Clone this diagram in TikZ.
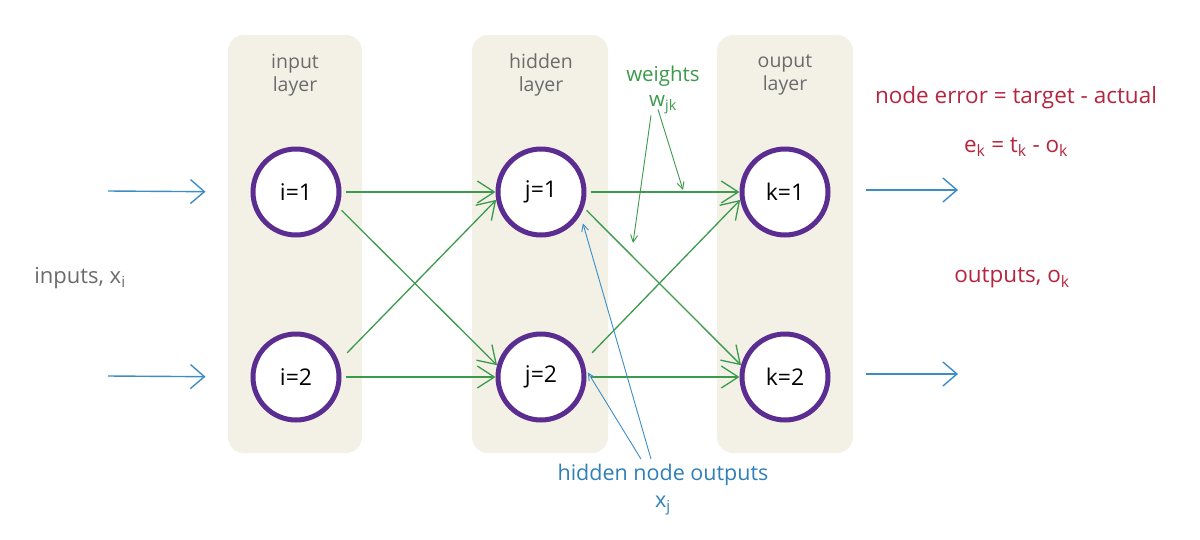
\documentclass[tikz,border=0pt]{standalone}
\usepackage{fontspec}
\setmainfont{Open Sans}
\usetikzlibrary{arrows.meta,positioning}
\definecolor{panel}{HTML}{F3F1E6}
\definecolor{graytxt}{HTML}{6B6B6B}
\definecolor{purp}{HTML}{5C2D91}
\definecolor{grn}{HTML}{3C9A4C}
\definecolor{blu}{HTML}{3C8DC5}
\definecolor{blutxt}{HTML}{2F7FB8}
\definecolor{redtxt}{HTML}{B5253F}
\tikzset{
  panelbox/.style={fill=panel, rounded corners=16pt, draw=none},
  neuron/.style={circle, draw=purp, fill=white, line width=5pt, minimum size=86pt, inner sep=0pt, font=\fontsize{23}{26}\selectfont, text=black},
  layerlbl/.style={text=graytxt, align=center, font=\fontsize{19.5}{23}\selectfont},
  inarrow/.style={draw=blu, line width=1.4pt, -{Straight Barb[length=14pt,width=24pt]}},
  warrow/.style={draw=grn, line width=1.3pt, -{Straight Barb[length=17pt,width=22pt]}},
  thinarrowg/.style={draw=grn, line width=0.9pt, -{Straight Barb[length=7pt,width=7pt]}},
  thinarrowb/.style={draw=blu, line width=0.9pt, -{Straight Barb[length=7pt,width=7pt]}},
  redlbl/.style={text=redtxt, font=\fontsize{22.5}{26}\selectfont, align=center},
}
\begin{document}
\begin{tikzpicture}[x=1pt,y=-1pt]
\useasboundingbox (0,0) rectangle (1200,539);
% panels
\path[panelbox] (228,35) rectangle (362,453);
\path[panelbox] (472,35) rectangle (608,453);
\path[panelbox] (717,35) rectangle (853,453);
\node[layerlbl] (lin) at (295,75) {input\\layer};
\node[layerlbl] (lhid) at (541,75) {hidden\\layer};
\node[layerlbl] (lout) at (785,75) {ouput\\layer};
% neurons
\node[neuron] (i1) at (296,192) {i=1};
\node[neuron] (i2) at (296,377) {i=2};
\node[neuron] (j1) at (541,192) {j=1};
\node[neuron] (j2) at (541,377) {j=2};
\node[neuron] (k1) at (785,192) {k=1};
\node[neuron] (k2) at (785,377) {k=2};
% input / output arrows
\coordinate (in1) at (108,191);
\coordinate (in2) at (108,376);
\coordinate (out1s) at (866,190);
\coordinate (out1e) at (958,190);
\coordinate (out2s) at (866,374);
\coordinate (out2e) at (958,374);
\draw[inarrow, shorten >=45pt] (in1) -- (i1.west);
\draw[inarrow, shorten >=45pt] (in2) -- (i2.west);
\draw[inarrow] (out1s) -- (out1e);
\draw[inarrow] (out2s) -- (out2e);
% weights
\draw[warrow, shorten <=4pt] (i1.east) -- (j1.west);
\draw[warrow, shorten <=4pt] (i2.east) -- (j2.west);
\draw[warrow, shorten <=4pt] (i1.-20) -- (j2.165);
\draw[warrow, shorten <=12pt] (i2.20) -- (j1.190);
\draw[warrow, shorten <=4pt] (j1.east) -- (k1.west);
\draw[warrow, shorten <=4pt] (j2.east) -- (k2.west);
\draw[warrow, shorten <=4pt] (j1.-20) -- (k2.165);
\draw[warrow, shorten <=12pt] (j2.20) -- (k1.190);
% labels
\node[text=graytxt, font=\fontsize{22}{26}\selectfont] (inlbl) at (80,278) {inputs, x\textsubscript{i}};
\node[redlbl] (outlbl) at (1012,278) {outputs, o\textsubscript{k}};
\node[redlbl] (err) at (1016,98) {node error = target - actual};
\node[redlbl] (errf) at (1016,147) {e\textsubscript{k} = t\textsubscript{k} - o\textsubscript{k}};
\node[text=grn, align=center, font=\fontsize{20.5}{25}\selectfont] (wlab) at (663,90) {weights\\w\textsubscript{jk}};
\coordinate (wt1) at (683,190);
\coordinate (wt2) at (633,243);
\draw[thinarrowg] ([xshift=-12pt,yshift=2pt]wlab.south) -- (wt2);
\draw[thinarrowg] ([xshift=-5pt,yshift=8pt]wlab.south) -- (wt1);
\node[text=blutxt, align=center, font=\fontsize{21.5}{27}\selectfont] (hlab) at (663,490) {hidden node outputs\\x\textsubscript{j}};
\draw[thinarrowb, shorten >=4pt] ([xshift=-22pt,yshift=2pt]hlab.north) -- (j2.10);
\draw[thinarrowb, shorten >=9pt] ([xshift=-12pt,yshift=2pt]hlab.north) -- (j1.-30);
\end{tikzpicture}
\end{document}
